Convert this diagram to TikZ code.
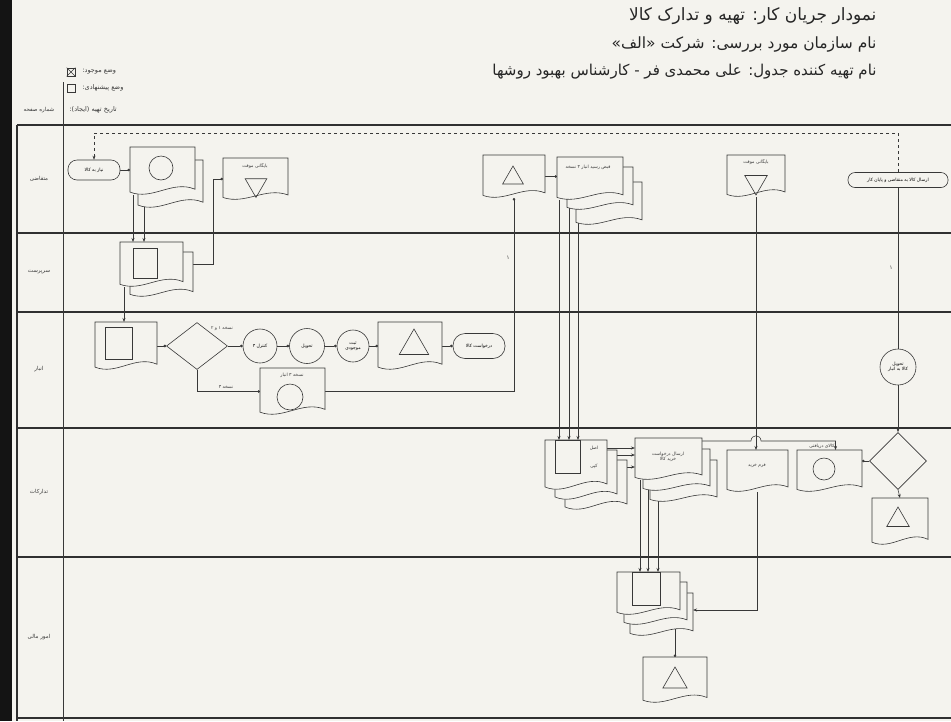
\documentclass[tikz,border=0pt]{standalone}
\usepackage{fontspec}
\usetikzlibrary{shapes.geometric,arrows.meta,calc}
\TeXXeTstate=1
\newfontfamily\arabicfont[Script=Arabic]{DejaVu Sans}
\newcommand\fa[1]{{\arabicfont\beginR #1\endR}}
\newcommand\smallsz{\fontsize{4.5}{5.4}\selectfont}
\definecolor{paper}{HTML}{F4F3EE}
\definecolor{ink}{HTML}{383838}
\pgfdeclarelayer{bg}
\pgfdeclarelayer{conn}
\pgfsetlayers{bg,conn,main}
\tikzset{
  docline/.style={draw=ink,fill=paper,line width=0.6pt},
  anchorbox/.style={rectangle,draw=none,inner sep=0pt,outer sep=0pt},
  term/.style={rectangle,rounded corners=9pt,draw=ink,fill=paper,line width=0.6pt,minimum width=52pt,minimum height=20pt,inner sep=1pt,font=\smallsz},
  circ/.style={circle,draw=ink,fill=paper,line width=0.6pt,inner sep=0pt,font=\smallsz,align=center},
  dia/.style={diamond,draw=ink,fill=paper,line width=0.6pt,inner sep=0pt},
  tri/.style={regular polygon,regular polygon sides=3,draw=ink,line width=0.6pt,inner sep=0pt},
  itri/.style={tri,shape border rotate=180},
  sq/.style={rectangle,draw=ink,fill=paper,line width=0.6pt,inner sep=0pt},
  lbl/.style={inner sep=0.5pt,font=\smallsz,text=ink,align=center},
  conn/.style={draw=ink,line width=0.55pt},
  arr/.style={-{Stealth[length=4pt,width=3pt]}},
  dotend/.style={-{Circle[length=2.6pt]}},
  frame/.style={draw=ink!85!black,line width=1.3pt},
  lanelbl/.style={font=\fontsize{5.5}{6.5}\selectfont,text=ink},
  leglbl/.style={font=\fontsize{6.5}{7.5}\selectfont,text=ink},
  titl/.style={anchor=east,text=black!85}
}
% document shape: x1 y1 x2 y2 (y downwards)
\newcommand\docshape[4]{%
  \draw[docline] (#1,#2) -- (#3,#2) -- (#3,{#4-0.12*(#4-#2)})
   .. controls ({#1+0.65*(#3-#1)},{#4-0.32*(#4-#2)}) and ({#1+0.35*(#3-#1)},{#4+0.12*(#4-#2)})
   .. (#1,{#4-0.06*(#4-#2)}) -- cycle;}
\newcommand\docnode[5]{%
  \docshape{#2}{#3}{#4}{#5}
  \node[anchorbox,minimum width=#4pt-#2pt,minimum height=#5pt-#3pt] (#1) at ({(#2+#4)/2},{(#3+#5)/2}) {};}
\begin{document}
\begin{tikzpicture}[x=1pt,y=-1pt]
\useasboundingbox (0,0) rectangle (951,721);
\begin{pgfonlayer}{bg}
  \fill[paper] (0,0) rectangle (951,721);
  \fill[black!92] (0,0) rectangle (12,721);
  \draw[frame] (17,125) -- (951,125);
  \draw[frame] (17,125) -- (17,721);
  \draw[frame] (17,233) -- (951,233);
  \draw[frame] (17,312) -- (951,312);
  \draw[frame] (17,428) -- (951,428);
  \draw[frame] (17,557) -- (951,557);
  \draw[frame] (17,718) -- (951,718);
  \draw[draw=ink,line width=0.9pt] (63,82) -- (63,721);
\end{pgfonlayer}

% title
\node[titl,font=\fontsize{17}{20}\selectfont] (ti1) at (880,16) {\fa{نمودار جریان کار: تهیه و تدارک کالا}};
\node[titl,font=\fontsize{15.5}{18}\selectfont] (ti2) at (880,44) {\fa{نام سازمان مورد بررسی: شرکت «الف»}};
\node[titl,font=\fontsize{15}{18}\selectfont] (ti3) at (880,72) {\fa{نام تهیه کننده جدول: علی محمدی فر - کارشناس بهبود روشها}};

% legend
\node[sq,minimum size=8pt] (lg1) at (71,72) {};
\draw[ink,line width=0.6pt] (lg1.north west) -- (lg1.south east) (lg1.north east) -- (lg1.south west);
\node[leglbl,anchor=west] (lg1t) at (79,72) {\fa{وضع موجود:}};
\node[sq,minimum size=8pt] (lg2) at (71,88) {};
\node[leglbl,anchor=west] (lg2t) at (79,88) {\fa{وضع پیشنهادی:}};
\node[leglbl,anchor=west] (lg3t) at (66,110) {\fa{تاریخ تهیه (ایجاد):}};
\node[lanelbl] (pg) at (39,110) {\fa{شماره صفحه}};

% lane labels
\node[lanelbl] (ln1) at (39,179) {\fa{متقاضی}};
\node[lanelbl] (ln2) at (39,272) {\fa{سرپرست}};
\node[lanelbl] (ln3) at (39,369) {\fa{انبار}};
\node[lanelbl] (ln4) at (39,492) {\fa{تدارکات}};
\node[lanelbl] (ln5) at (39,637) {\fa{امور مالی}};

% ---------- lane 1
\node[term] (st) at (94,170) {\fa{نیاز به کالا}};
\docshape{138}{160}{203}{208}
\docnode{M1}{130}{147}{195}{195}
\node[circ,minimum size=24pt] (M1c) at (161,168) {};
\docnode{A0}{223}{158}{288}{200}
\node[lbl] (A0t) at (255,166) {\fa{بایگانی موقت}};
\node[itri,minimum size=25pt] (A0s) at (256,185) {};
\docnode{T1}{483}{155}{545}{198}
\node[tri,minimum size=24pt] (T1s) at (513,178) {};
\docshape{576}{182}{642}{225}
\docshape{567}{167}{633}{210}
\docnode{S1}{557}{157}{623}{200}
\node[lbl] (S1t) at (588,167) {\fa{قبض رسید انبار ۳ نسخه}};
\docnode{A1}{727}{155}{785}{197}
\node[lbl] (A1t) at (756,162) {\fa{بایگانی موقت}};
\node[itri,minimum size=26pt] (A1s) at (756,182) {};
\node[term,minimum width=100pt,minimum height=15pt,rounded corners=7pt] (E1) at (898,180) {\fa{ارسال کالا به متقاضی و پایان کار}};

% ---------- lane 2
\docshape{130}{252}{193}{297}
\docnode{M2}{120}{242}{183}{287}
\node[sq,minimum width=24pt,minimum height=30pt] (M2s) at (145,263) {};
\node[lanelbl] (mk1) at (508,258) {\fa{۱}};
\node[lanelbl] (mk2) at (891,268) {\fa{۱}};

% ---------- lane 3
\docnode{L3a}{95}{322}{157}{370}
\node[sq,minimum width=27pt,minimum height=32pt] (L3as) at (118.5,343) {};
\node[dia,minimum width=61pt,minimum height=47pt] (D1) at (197,346) {};
\node[circ,minimum size=34pt] (C1) at (260,346) {\fa{کنترل ۳}};
\node[circ,minimum size=35pt] (C2) at (307,346) {\fa{تحویل}};
\node[circ,minimum size=32pt] (C3) at (353,346) {\fa{ثبت}\\\fa{موجودی}};
\docnode{T3}{378}{322}{442}{370}
\node[tri,minimum size=34pt] (T3s) at (414,346) {};
\node[term,minimum width=52pt,minimum height=25pt,rounded corners=12pt] (R3) at (479,346) {\fa{درخواست کالا}};
\docnode{L3b}{260}{368}{325}{415}
\node[circ,minimum size=26pt] (L3bc) at (290,397) {};
\node[lbl] (L3bt) at (292,375) {\fa{نسخه ۳ انبار}};
\node[lbl] (D1t1) at (222,329) {\fa{نسخه ۱ و ۲}};
\node[lbl] (D1t2) at (226,387) {\fa{نسخه ۳}};
\node[circ,minimum size=36pt] (C5) at (898,367) {\fa{تحویل}\\\fa{کالا به انبار}};

% ---------- lane 4
\docshape{565}{460}{627}{510}
\docshape{555}{450}{617}{500}
\docnode{S4a}{545}{440}{607}{490}
\node[sq,minimum width=25pt,minimum height=33pt] (S4as) at (567.5,456.5) {};
\node[lbl] (S4at1) at (594,448) {\fa{اصل}};
\node[lbl] (S4at2) at (594,466) {\fa{کپی}};
\docshape{650}{460}{717}{502}
\docshape{643}{449}{710}{491}
\docnode{S4b}{635}{438}{702}{480}
\node[lbl] (S4bt) at (668,457) {\fa{ارسال درخواست}\\\fa{خرید کالا}};
\docnode{F4}{727}{450}{788}{492}
\node[lbl] (F4t) at (757,466) {\fa{فرم خرید}};
\docnode{K4}{797}{450}{862}{492}
\node[circ,minimum size=22pt] (K4c) at (824,469) {};
\node[lbl] (K4t) at (822,446) {\fa{کالای دریافتی}};
\node[dia,minimum width=57pt,minimum height=57pt] (D4) at (898,461) {};
\docnode{T4}{872}{498}{928}{545}
\node[tri,minimum size=26pt] (T4s) at (898,520) {};

% ---------- lane 5
\docshape{630}{593}{693}{636}
\docshape{624}{582}{687}{625}
\docnode{S5}{617}{572}{680}{615}
\node[sq,minimum width=28pt,minimum height=33pt] (S5s) at (646,588.5) {};
\docnode{T5}{643}{657}{707}{703}
\node[tri,minimum size=28pt] (T5s) at (675,681) {};

% ---------- connectors
\begin{pgfonlayer}{conn}
  \coordinate (dtop) at (0,133);
  \draw[conn,dashed,arr] (E1.north) -- (E1.north |- dtop) -- (st.north |- dtop) -- (st.north);
  \draw[conn,dotend] (st.east) -- (st.east -| M1.west);
  \coordinate (m1a) at ($(M1.south west)+(3,0)$);
  \coordinate (m1b) at ($(M1.south west)+(14,0)$);
  \draw[conn,arr] (m1a) -- (m1a |- M2.north);
  \draw[conn,arr] (m1b) -- (m1b |- M2.north);
  \coordinate (j1) at ($(A0.west)+(-10,0)$);
  \draw[conn,dotend] (M2.center) -- (M2.center -| j1) -- (j1) -- (A0.west);
  \coordinate (m2a) at ($(M2.south west)+(4,0)$);
  \draw[conn,arr] (m2a) -- (m2a |- L3a.north);
  \draw[conn,dotend] (L3a.east) -- (D1.west);
  \draw[conn,dotend] (D1.east) -- (C1.west);
  \draw[conn,dotend] (C1.east) -- (C2.west);
  \draw[conn,dotend] (C2.east) -- (C3.west);
  \draw[conn,dotend] (C3.east) -- (T3.west);
  \draw[conn,dotend] (T3.east) -- (R3.west);
  \draw[conn,dotend] (D1.south) |- (L3b.west);
  \draw[conn,dotend] (L3b.east) -| (T1.south);
  \draw[conn,dotend] (T1.east) -- (T1.east -| S1.west);
  \coordinate (s1a) at ($(S1.south west)+(2,0)$);
  \coordinate (s1b) at ($(S1.south west)+(12,0)$);
  \coordinate (s1c) at ($(S1.south west)+(21,0)$);
  \draw[conn,arr] (s1a) -- (s1a |- S4a.north);
  \draw[conn,arr] (s1b) -- (s1b |- S4a.north);
  \draw[conn,arr] (s1c) -- (s1c |- S4a.north);
  \draw[conn,arr] (A1.south) -- (A1.south |- F4.north);
  \draw[conn] (E1.south) -- (C5.north);
  \draw[conn,arr] (C5.south) -- (D4.north);
  \coordinate (h1) at ($(S4a.north east)+(0,8)$);
  \coordinate (h2) at ($(S4a.north east)+(0,15)$);
  \coordinate (h3) at ($(S4a.north east)+(0,27)$);
  \draw[conn,arr] (h1) -- (h1 -| S4b.west);
  \draw[conn,arr] (h2) -- (h2 -| S4b.west);
  \draw[conn,arr] (h3) -- (h3 -| S4b.west);
  \coordinate (q1) at ($(S4b.south west)+(5,0)$);
  \coordinate (q2) at ($(S4b.south west)+(13,0)$);
  \coordinate (q3) at ($(S4b.south west)+(23,0)$);
  \draw[conn,arr] (q1) -- (q1 |- S5.north);
  \draw[conn,arr] (q2) -- (q2 |- S5.north);
  \draw[conn,arr] (q3) -- (q3 |- S5.north);
  \coordinate (hp) at ($(S4b.north east)+(0,3)$);
  \coordinate (hpx) at (A1.south |- hp);
  \draw[conn,arr] (hp) -- ($(hpx)+(-5,0)$) .. controls ($(hpx)+(-5,-7)$) and ($(hpx)+(5,-7)$) .. ($(hpx)+(5,0)$) -| ($(K4.north)+(6,0)$);
  \draw[conn,arr] (F4.south) |- ($(S5.east)+(13,16.5)$);
  \draw[conn,dotend] (D4.west) -- (D4.west -| K4.east);
  \draw[conn,arr] (D4.south) -- (T4.north);
  \coordinate (t5a) at (T5.north |- S5.center);
  \draw[conn,dotend] (t5a) -- (T5.north);
\end{pgfonlayer}
\end{tikzpicture}
\end{document}
